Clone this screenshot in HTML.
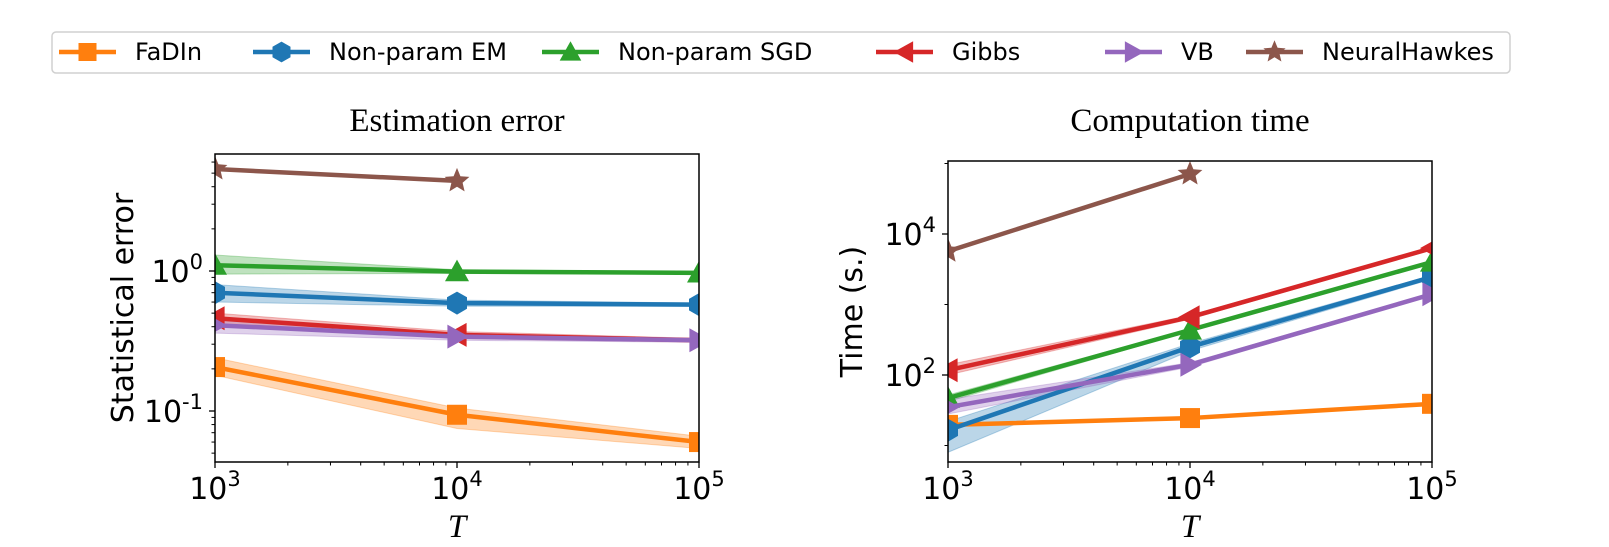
<!DOCTYPE html>
<html><head><meta charset="utf-8">
<style>
body{margin:0;background:#fff;}
svg{display:block;}
text{font-family:"DejaVu Sans","Liberation Sans",sans-serif;}
.serif{font-family:"Liberation Serif","DejaVu Serif",serif;}
</style></head>
<body>
<svg id="chart" width="1609" height="547" viewBox="0 0 1609 547" xmlns="http://www.w3.org/2000/svg">
<g id="legend">
<rect x="52" y="32" width="1458" height="41" rx="4" fill="#fff" stroke="#d0d0d0" stroke-width="1.5"/>
</g>
<g id="plots"></g>
</svg>
<script>
const NS="http://www.w3.org/2000/svg";
const tValues=[1e3,1e4,1e5];
const seriesNames=["FaDIn","Non-param EM","Non-param SGD","Gibbs","VB","NeuralHawkes"];
const seriesColors=["#ff7f0e","#1f77b4","#2ca02c","#d62728","#9467bd","#8c564b"];
const seriesMarkers=["square","hexagon","triangle-up","triangle-left","triangle-right","star"];
// Estimation error (left)
const errFaDIn=[0.206,0.094,0.06];
const errEM=[0.70,0.59,0.575];
const errSGD=[1.1,0.99,0.97];
const errGibbs=[0.46,0.35,0.32];
const errVB=[0.41,0.34,0.32];
const errNeural=[5.35,4.4];
const errFaDInLo=[0.18,0.075,0.054], errFaDInHi=[0.24,0.105,0.066];
const errEMLo=[0.6,0.56,0.56], errEMHi=[0.8,0.62,0.59];
const errSGDLo=[0.95,0.96,0.95], errSGDHi=[1.3,1.02,0.99];
const errGibbsLo=[0.42,0.33,0.31], errGibbsHi=[0.5,0.37,0.33];
const errVBLo=[0.36,0.32,0.31], errVBHi=[0.46,0.36,0.33];
// Computation time (right)
const timeFaDIn=[19.6,24.5,39];
const timeEM=[16.5,250,2460];
const timeSGD=[47,435,4000];
const timeGibbs=[117,660,6300];
const timeVB=[35,140,1400];
const timeNeural=[5700,71000];
const timeEMLo=[8,220,2300], timeEMHi=[22,280,2600];
const timeGibbsLo=[100,620,6000], timeGibbsHi=[140,700,6600];
const timeVBLo=[28,130,1350], timeVBHi=[45,150,1450];
const timeSGDLo=[42,420,3900], timeSGDHi=[52,450,4100];

function el(tag,attrs,parent){const e=document.createElementNS(NS,tag);for(const k in attrs)e.setAttribute(k,attrs[k]);(parent||document.getElementById('plots')).appendChild(e);return e;}

function marker(g,type,x,y,color,s){
  let e;
  if(type==="square"){e=el('rect',{x:x-s,y:y-s,width:2*s,height:2*s,fill:color},g);}
  else if(type==="hexagon"){let p=[];for(let i=0;i<6;i++){const a=Math.PI/6+i*Math.PI/3;p.push((x+s*1.15*Math.cos(a)).toFixed(1)+","+(y+s*1.15*Math.sin(a)).toFixed(1));}e=el('polygon',{points:p.join(" "),fill:color},g);}
  else if(type==="triangle-up"){s*=1.2;e=el('polygon',{points:`${x},${y-s} ${x-s},${y+s*0.8} ${x+s},${y+s*0.8}`,fill:color},g);}
  else if(type==="triangle-left"){s*=1.2;e=el('polygon',{points:`${x-s},${y} ${x+s*0.8},${y-s} ${x+s*0.8},${y+s}`,fill:color},g);}
  else if(type==="triangle-right"){s*=1.2;e=el('polygon',{points:`${x+s},${y} ${x-s*0.8},${y-s} ${x-s*0.8},${y+s}`,fill:color},g);}
  else {let p=[];s*=1.3;for(let i=0;i<10;i++){const r=i%2?s*0.45:s;const a=-Math.PI/2+i*Math.PI/5;p.push((x+r*Math.cos(a)).toFixed(1)+","+(y+r*Math.sin(a)).toFixed(1));}e=el('polygon',{points:p.join(" "),fill:color},g);}
  
  
}

function panel(cfg){
  const {x0,x1,y0,y1,ymin,ymax,name}=cfg;
  const xs=v=>x0+(Math.log10(v)-3)/2*(x1-x0);
  const ys=v=>y1-(Math.log10(v)-ymin)/(ymax-ymin)*(y1-y0);
  const g=el('g',{});
  
  
  const clipId=name+"-clip";
  const cp=el('clipPath',{id:clipId},g);el('rect',{x:x0,y:y0,width:x1-x0,height:y1-y0},cp);
  const data=el('g',{'clip-path':`url(#${clipId})`},g);
  
  
  cfg.series.forEach(s=>{
    if(s.lo){
      const n=s.lo.length;let p=[];
      for(let i=0;i<n;i++)p.push(xs(tValues[i])+","+ys(s.hi[i]));
      for(let i=n-1;i>=0;i--)p.push(xs(tValues[i])+","+ys(s.lo[i]));
      const b=el('polygon',{points:p.join(" "),fill:seriesColors[s.i],'fill-opacity':0.3,stroke:seriesColors[s.i],'stroke-opacity':0.3},data);
      
      
    }
  });
  cfg.series.forEach(s=>{
    const pts=s.v.map((v,i)=>xs(tValues[i])+","+ys(v)).join(" ");
    const l=el('polyline',{points:pts,fill:'none',stroke:seriesColors[s.i],'stroke-width':4.5,'stroke-linejoin':'round'},data);
    
    
    s.v.forEach((v,i)=>marker(data,seriesMarkers[s.i],xs(tValues[i]),ys(v),seriesColors[s.i],10));
  });
  const fr=el('rect',{x:x0,y:y0,width:x1-x0,height:y1-y0,fill:'none',stroke:'#000','stroke-width':1.5},g);
  
  
  for(let d=3;d<=5;d++){
    const x=xs(Math.pow(10,d));
    el('line',{x1:x,y1:y1,x2:x,y2:y1+6,stroke:'#000','stroke-width':1.3},g);
    const t=el('text',{x:x,y:y1+37,'font-size':30,'text-anchor':'middle'},g);
    t.innerHTML=`10<tspan dy="-13" font-size="21">${d}</tspan>`;
    
    
    if(d<5)for(let m=2;m<=9;m++){const xm=xs(m*Math.pow(10,d));el('line',{x1:xm,y1:y1,x2:xm,y2:y1+3.5,stroke:'#000','stroke-width':1},g);}
  }
  for(let d=Math.floor(ymin);d<=Math.ceil(ymax);d++){
    for(let m=1;m<=9;m++){
      const v=m*Math.pow(10,d);const lv=Math.log10(v);
      if(lv<ymin||lv>ymax)continue;
      const y=ys(v);
      const major=m===1&&cfg.yLabels.includes(d);
      if(cfg.minorY||m===1)el('line',{x1:x0,y1:y,x2:x0-(major?6:3.5),y2:y,stroke:'#000','stroke-width':major?1.3:1},g);
      if(major){
        const t=el('text',{x:x0-12,y:y+11,'font-size':30,'text-anchor':'end'},g);
        t.innerHTML=`10<tspan dy="-13" font-size="21">${d}</tspan>`;
        
        
      }
    }
  }
  const tt=el('text',{x:(x0+x1)/2,y:cfg.ty,'font-size':33,'text-anchor':'middle',class:'serif'},g);
  tt.textContent=cfg.title;
  
  
  const xl=el('text',{x:(x0+x1)/2,y:y1+75,'font-size':33,'text-anchor':'middle',class:'serif','font-style':'italic'},g);
  xl.textContent='T';
  
  
  const yl=el('text',{x:0,y:0,'font-size':30,'text-anchor':'middle',transform:`translate(${cfg.ylx},${(y0+y1)/2}) rotate(-90)`},g);
  yl.textContent=cfg.ylabel;
  
  
}

panel({name:'error-panel',x0:215,x1:699,y0:154,y1:462,ymin:-1+(411-462)/140,ymax:(271-154)/140,
  yLabels:[-1,0],minorY:true,title:'Estimation error',ylabel:'Statistical error',ylx:133,ty:131,
  series:[
    {i:0,key:'fadin',v:errFaDIn,lo:errFaDInLo,hi:errFaDInHi},
    {i:1,key:'em',v:errEM,lo:errEMLo,hi:errEMHi},
    {i:2,key:'sgd',v:errSGD,lo:errSGDLo,hi:errSGDHi},
    {i:3,key:'gibbs',v:errGibbs,lo:errGibbsLo,hi:errGibbsHi},
    {i:4,key:'vb',v:errVB,lo:errVBLo,hi:errVBHi},
    {i:5,key:'neural',v:errNeural}]});
panel({name:'time-panel',x0:948,x1:1432,y0:161,y1:462,ymin:2-(462-375)/70.5,ymax:4+(234-161)/70.5,
  yLabels:[2,4],minorY:false,title:'Computation time',ylabel:'Time (s.)',ylx:862,ty:131,
  series:[
    {i:0,key:'fadin',v:timeFaDIn},
    {i:1,key:'em',v:timeEM,lo:timeEMLo,hi:timeEMHi},
    {i:2,key:'sgd',v:timeSGD,lo:timeSGDLo,hi:timeSGDHi},
    {i:3,key:'gibbs',v:timeGibbs,lo:timeGibbsLo,hi:timeGibbsHi},
    {i:4,key:'vb',v:timeVB,lo:timeVBLo,hi:timeVBHi},
    {i:5,key:'neural',v:timeNeural}]});

const legX=[59,253,542,876,1105,1246];
const lg=document.getElementById('legend');
seriesNames.forEach((n,i)=>{
  const g=el('g',{},lg);
  
  
  el('line',{x1:legX[i],y1:52,x2:legX[i]+57,y2:52,stroke:seriesColors[i],'stroke-width':4.5},g);
  marker(g,seriesMarkers[i],legX[i]+28.5,52,seriesColors[i],9);
  const t=el('text',{x:legX[i]+76,y:60,'font-size':24},g);
  t.textContent=n;
  
  
});
</script>
</body></html>
